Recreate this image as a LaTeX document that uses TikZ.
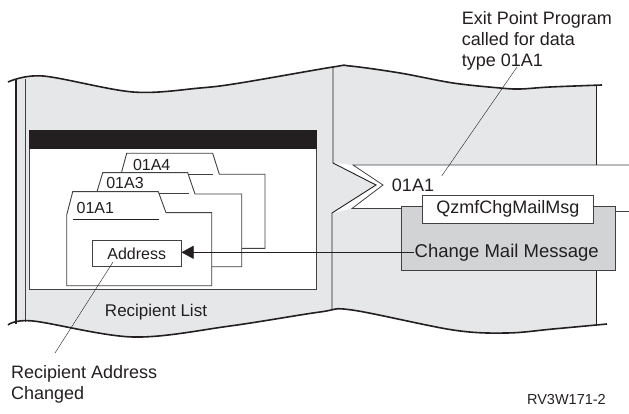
\documentclass[tikz,border=0pt]{standalone}
\usepackage{fontspec}
\setmainfont{Liberation Sans}
\usepackage{tikz}
\usetikzlibrary{arrows.meta,positioning}
\definecolor{rvdark}{RGB}{35,31,32}
\definecolor{rvmid}{RGB}{65,64,66}
\definecolor{rvpanel}{RGB}{230,231,232}
\definecolor{rvbox}{RGB}{209,211,212}
\tikzstyle{arrow} = [thin,color=rvdark,-{Triangle[length=12pt,width=13pt]}]
\tikzstyle{wave} = [line width=1.6pt, color=rvdark, smooth, tension=0.55]
\tikzstyle{lbltext} = [inner sep=0pt, text=rvdark, font=\fontsize{18}{21}\selectfont]
\tikzstyle{tabtext} = [inner sep=0pt, text=rvdark, font=\fontsize{16}{19}\selectfont]
\tikzstyle{folder} = [draw=rvmid, fill=white, line width=0.9pt]
\tikzstyle{msgbox} = [rectangle, draw=rvmid, line width=0.9pt, inner sep=0pt]

\begin{document}
\begin{tikzpicture}[x=1pt, y=-1pt]
    \useasboundingbox (0,0) rectangle (629,414);

    % Panels
    \begin{scope}
        \clip (16,0) rectangle (596.7,414);
        \fill[rvpanel, smooth, tension=0.55] plot coordinates {(8,82) (43,76) (133,92) (200,88) (240,83) (333,67) (350,66) (400,73) (453,83) (500,88) (520,89) (550,87) (602,85)}
            -- plot coordinates {(607,324) (553,329) (507,333) (453,330) (352,310) (320,312) (230,326) (133,337) (33,321) (8,325)} -- cycle;
    \end{scope}

    % Band
    \fill[white] (333,163) -- (353,165) -- (629,165) -- (629,211.5) -- (352,208.5) -- (332,213) -- (376,185) -- cycle;
    \draw[rvmid, line width=0.8pt] (629,165) -- (353,165) -- (383,185) -- (352,208.5) -- (401.7,208.5);
    \draw[rvmid, line width=0.8pt] (615,211.5) -- (629,211.5);

    % Edges
    \draw[rvdark, line width=0.9pt] (333,67) -- (333,163) -- (376,185) -- (332,213) -- (332,309);
    \draw[rvdark, line width=1.3pt] (16,80.5) -- (16,323.7);
    \draw[rvmid, line width=0.8pt] (25,79) -- (25,322.3);
    \draw[rvdark, line width=1.5pt] (596.7,85) -- (596.7,165);
    \draw[rvdark, line width=1.5pt] (596.7,211.5) -- (596.7,324.5);
    \draw[wave] plot coordinates {(8,82) (43,76) (133,92) (200,88) (240,83) (333,67) (350,66) (400,73) (453,83) (500,88) (520,89) (550,87) (602,85)};
    \draw[wave] plot coordinates {(8,325) (33,321) (133,337) (230,326) (320,312) (352,310) (453,330) (507,333) (553,329) (607,324)};

    % Window
    \node[draw=rvmid, fill=white, line width=0.8pt, inner sep=0pt, minimum width=287.4pt, minimum height=159pt] (window) at (173,209.5) {};
    \node[fill=rvdark, inner sep=0pt, minimum width=287.4pt, minimum height=19.5pt, anchor=north] (titlebar) at (window.north) {};
    \node[inner sep=0pt, text=rvdark, font=\fontsize{17}{20}\selectfont] (listlbl) at (156,311.7) {Recipient List};

    % Folders
    \draw[folder] (121.7,248.3) -- (121.7,171.7) -- (126.7,153.3) -- (212.7,153.3) -- (219.3,174.3) -- (265,174.3) -- (265,248.3) -- cycle;
    \draw[rvmid, line width=0.9pt] (128,174.3) -- (213.3,174.3);
    \node[tabtext] (tab4) at (151.7,165) {01A4};
    \draw[folder] (97.3,266.7) -- (97.3,190.7) -- (102.7,172.7) -- (187.7,172.7) -- (195,194) -- (241.7,194) -- (241.7,266.7) -- cycle;
    \draw[rvmid, line width=0.9pt] (104,193.3) -- (189.3,193.3);
    \node[tabtext] (tab3) at (125,183.3) {01A3};
    \draw[folder] (66.7,285.7) -- (66.7,215) -- (72.7,191.7) -- (158.3,191.7) -- (166,212.7) -- (211.7,212.7) -- (211.7,285.7) -- cycle;
    \draw[rvdark, line width=0.9pt] (73.3,219) -- (159,219);
    \node[tabtext] (tab1) at (95.3,208.3) {01A1};

    % Address
    \node[msgbox, tabtext, fill=white, minimum width=88.7pt, minimum height=26.7pt] (addr) at (136.7,253.3) {Address};

    % Exit program
    \node[msgbox, fill=rvbox, minimum width=213.3pt, minimum height=63.3pt] (cmmbox) at (508.3,238.3) {};
    \node[msgbox, lbltext, fill=white, minimum width=171pt, minimum height=28.3pt] (qzmf) at (507.8,209.2) {QzmfChgMailMsg};
    \node[lbltext, font=\fontsize{18.5}{22}\selectfont] (cmm) at (506.7,252.3) {Change Mail Message};
    \node[lbltext] (bandlbl) at (413,185) {01A1};

    % Arrows
    \draw[arrow] (cmm.west) -- (cmm.west -| addr.east);

    % Labels
    \node[lbltext, align=left, anchor=north west] (exitlbl) at (461.7,11.5) {Exit Point Program\\called for data\\type 01A1};
    \coordinate (exittip) at (517,67);
    \coordinate (bandtip) at (441.7,176);
    \draw[thin, rvdark] (exittip) -- (bandtip);

    \node[lbltext, align=left, anchor=north west] (chglbl) at (11,365.3) {Recipient Address\\Changed};
    \coordinate (addrtip) at (113,262);
    \coordinate (chgtip) at (55,353);
    \draw[thin, rvdark] (addrtip) -- (chgtip);

    \node[inner sep=0pt, anchor=east, text=rvdark, font=\fontsize{14.5}{17}\selectfont] (figid) at (606,400) {RV3W171-2};
\end{tikzpicture}
\end{document}
